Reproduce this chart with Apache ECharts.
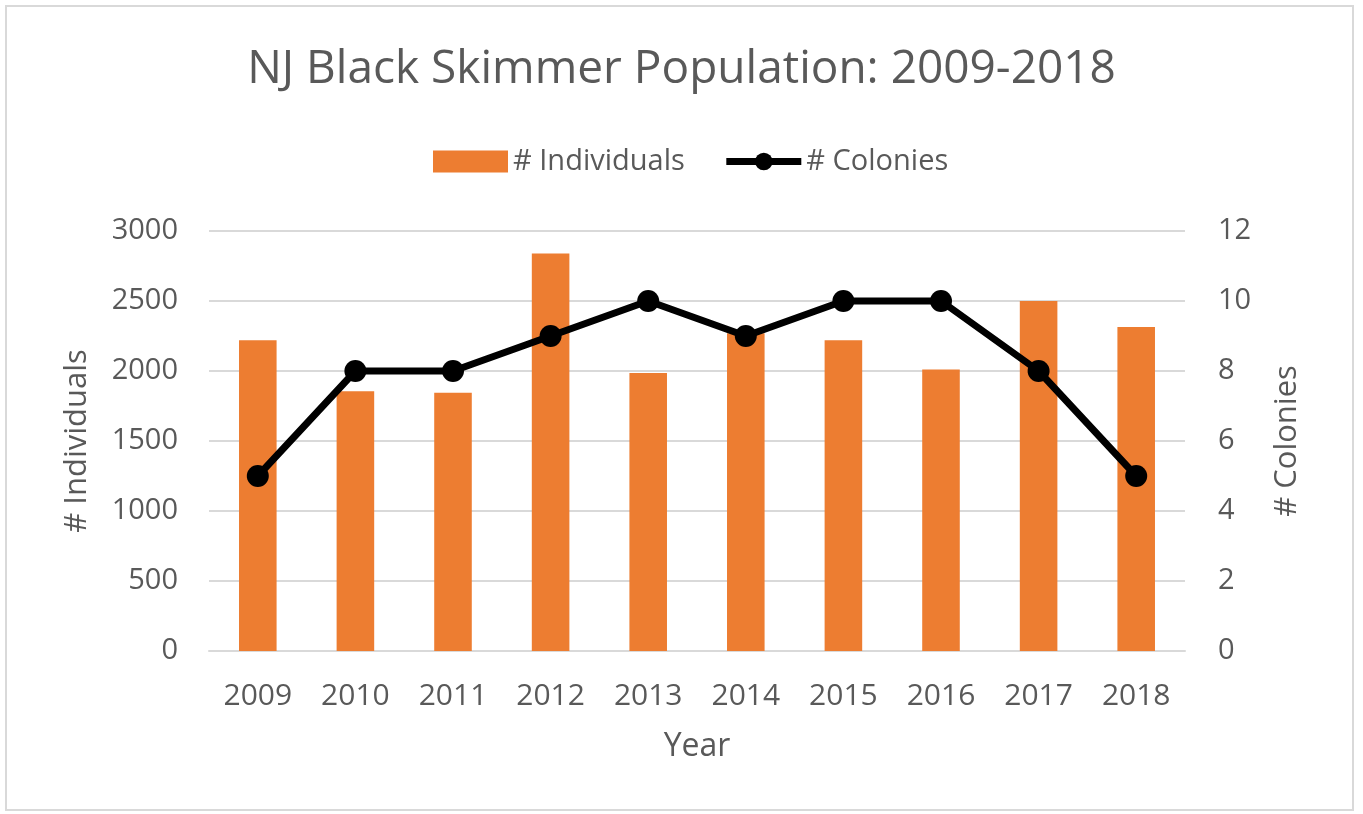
<!DOCTYPE html>
<html><head><meta charset="utf-8">
<script src="https://cdn.jsdelivr.net/npm/echarts@6/dist/echarts.min.js"></script>
<style>html,body{margin:0;padding:0;background:#fff}
#wrap{position:relative;width:1363px;height:814px}
#c{width:1363px;height:814px}
#frame{position:absolute;left:5px;top:5px;width:1349px;height:806px;box-sizing:border-box;border:2px solid #d9d9d9;pointer-events:none}</style>
</head><body><div id="wrap"><div id="c"></div><div id="frame"></div></div>
<script>
const years = ['2009','2010','2011','2012','2013','2014','2015','2016','2017','2018'];
const individuals = [2220, 1855, 1845, 2840, 1985, 2270, 2220, 2010, 2500, 2315];
const colonies = [5, 8, 8, 9, 10, 9, 10, 10, 8, 5];
const leftTicks = [0, 3000, 500];
const rightTicks = [0, 12, 2];

const FONT = 'Open Sans';
const GREY = '#595959';
const chart = echarts.init(document.getElementById('c'));
chart.setOption({
  animation: false,
  textStyle: { fontFamily: FONT },
  title: {
    text: 'NJ Black Skimmer Population: 2009-2018',
    left: 'center', top: 42,
    textStyle: { fontFamily: FONT, fontSize: 46, fontWeight: 'normal', color: GREY }
  },
  legend: {
    top: 142, left: 428, itemGap: 38, itemWidth: 75, itemHeight: 22,
    textStyle: { fontFamily: FONT, fontSize: 29, color: GREY },
    data: [
      { name: '# Individuals', icon: 'rect', itemStyle: { color: '#ED7D31' } },
      { name: '# Colonies', lineStyle: { width: 7, color: '#000' }, itemStyle: { color: '#000' } }
    ]
  },
  grid: { left: 209, right: 178, top: 231, bottom: 163 },
  xAxis: {
    type: 'category', data: years,
    name: 'Year', nameLocation: 'middle', nameGap: 80,
    nameTextStyle: { fontFamily: FONT, fontSize: 32, color: GREY },
    axisLine: { lineStyle: { color: '#d9d9d9', width: 2 } },
    axisTick: { show: false },
    axisLabel: { fontFamily: FONT, fontSize: 30, color: GREY, margin: 30 }
  },
  yAxis: [{
    type: 'value', min: leftTicks[0], max: leftTicks[1], interval: leftTicks[2],
    name: '# Individuals', nameLocation: 'middle', nameGap: 116, nameRotate: 90,
    nameTextStyle: { fontFamily: FONT, fontSize: 31, color: GREY },
    axisLabel: { fontFamily: FONT, fontSize: 29, color: GREY, margin: 31, formatter: v => String(v) },
    splitLine: { lineStyle: { color: '#d9d9d9', width: 2 } },
    axisLine: { show: false }, axisTick: { show: false }
  }, {
    type: 'value', min: rightTicks[0], max: rightTicks[1], interval: rightTicks[2],
    name: '# Colonies', nameLocation: 'middle', nameGap: 87, nameRotate: 90,
    nameTextStyle: { fontFamily: FONT, fontSize: 31, color: GREY },
    axisLabel: { fontFamily: FONT, fontSize: 29, color: GREY, margin: 33, formatter: v => String(v) },
    splitLine: { show: false },
    axisLine: { show: false }, axisTick: { show: false }
  }],
  series: [{
    name: '# Individuals', type: 'bar', data: individuals,
    barWidth: '38.5%', itemStyle: { color: '#ED7D31' }
  }, {
    name: '# Colonies', type: 'line', yAxisIndex: 1, data: colonies,
    symbol: 'circle', symbolSize: 22,
    lineStyle: { color: '#000', width: 7 },
    itemStyle: { color: '#000' }
  }]
});
</script></body></html>
